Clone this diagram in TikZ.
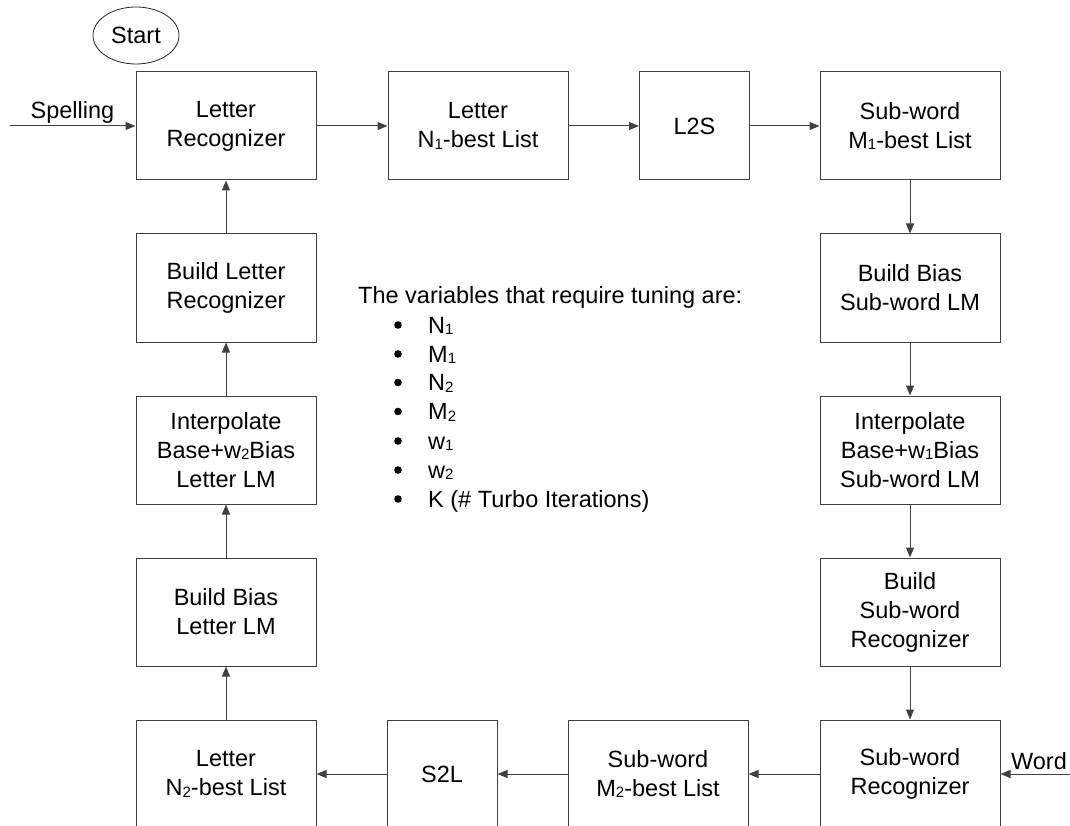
\documentclass[tikz,border=0pt]{standalone}
\usepackage{fontspec}
\setmainfont{Liberation Sans}
\usetikzlibrary{arrows.meta,shapes.geometric}
\newcommand\sbs[1]{{\fontsize{15}{15}\selectfont\raisebox{-1.5pt}{#1}}}
\newcommand\bul{\makebox[35pt][l]{\hspace*{1pt}\raisebox{8pt}{\tikz[baseline=0pt]\fill (0,0) circle (3.8pt);}}}
\begin{document}
\begin{tikzpicture}[x=1pt,y=-1pt,
  txt/.style={font=\fontsize{23.5}{29}\selectfont, inner sep=0pt},
  box/.style={txt, draw=black!75, line width=1pt, align=center, minimum width=180pt, minimum height=108pt},
  narrow/.style={minimum width=110pt},
  conn/.style={draw=black!75, line width=1pt, -{Triangle[length=10pt,width=8pt]}}]
\useasboundingbox (0,0) rectangle (1070,826);
\clip (0,0) rectangle (1070,826);
% top row
\node[box] (lr)  at (226,126) {Letter\\Recognizer};
\node[box] (n1)  at (478,126) {Letter\\N\sbs{1}-best List};
\node[box,narrow] (l2s) at (694.5,126) {L2S};
\node[box] (m1)  at (910,126) {Sub-word\\M\sbs{1}-best List};
% right column
\node[box] (bbs) at (910,288) {Build Bias\\Sub-word LM};
\node[box] (ibs) at (910,450) {Interpolate\\Base+w\sbs{1}Bias\\Sub-word LM};
\node[box] (bsr) at (910,612) {Build\\Sub-word\\Recognizer};
% bottom row
\node[box] (sr)  at (910,774) {Sub-word\\Recognizer};
\node[box] (m2)  at (658,774) {Sub-word\\M\sbs{2}-best List};
\node[box,narrow] (s2l) at (442,774) {S2L};
\node[box] (n2)  at (226,774) {Letter\\N\sbs{2}-best List};
% left column
\node[box] (bbl) at (226,612) {Build Bias\\Letter LM};
\node[box] (ibl) at (226,450) {Interpolate\\Base+w\sbs{2}Bias\\Letter LM};
\node[box] (blr) at (226,288) {Build Letter\\Recognizer};
% start
\node[txt, draw=black!85, line width=0.8pt, ellipse, minimum width=86pt, minimum height=57pt] (start) at (136,35.5) {Start};
% inputs
\coordinate (spin) at (10,126);
\coordinate (wdin) at (1070,774);
\node[txt, anchor=base] (spell) at (72.5,119) {Spelling};
\node[txt, anchor=base] (word) at (1039,769) {Word};
% connectors
\draw[conn] (spin) -- (lr.west);
\draw[conn] (lr) -- (n1);
\draw[conn] (n1) -- (l2s);
\draw[conn] (l2s) -- (m1);
\draw[conn] (m1) -- (bbs);
\draw[conn] (bbs) -- (ibs);
\draw[conn] (ibs) -- (bsr);
\draw[conn] (bsr) -- (sr);
\draw[conn] (wdin) -- (sr.east);
\draw[conn] (sr) -- (m2);
\draw[conn] (m2) -- (s2l);
\draw[conn] (s2l) -- (n2);
\draw[conn] (n2) -- (bbl);
\draw[conn] (bbl) -- (ibl);
\draw[conn] (ibl) -- (blr);
\draw[conn] (blr) -- (lr);
% variable list
\node[txt, anchor=base west] (title) at (358,303) {The variables that require tuning are:};
\node[txt, anchor=base west] (v1) at (393,333) {\bul N\sbs{1}};
\node[txt, anchor=base west] (v2) at (393,362) {\bul M\sbs{1}};
\node[txt, anchor=base west] (v3) at (393,390.5) {\bul N\sbs{2}};
\node[txt, anchor=base west] (v4) at (393,419.5) {\bul M\sbs{2}};
\node[txt, anchor=base west] (v5) at (393,449) {\bul w\sbs{1}};
\node[txt, anchor=base west] (v6) at (393,478) {\bul w\sbs{2}};
\node[txt, anchor=base west] (v7) at (393,507) {\bul K (\# Turbo Iterations)};
\end{tikzpicture}
\end{document}
